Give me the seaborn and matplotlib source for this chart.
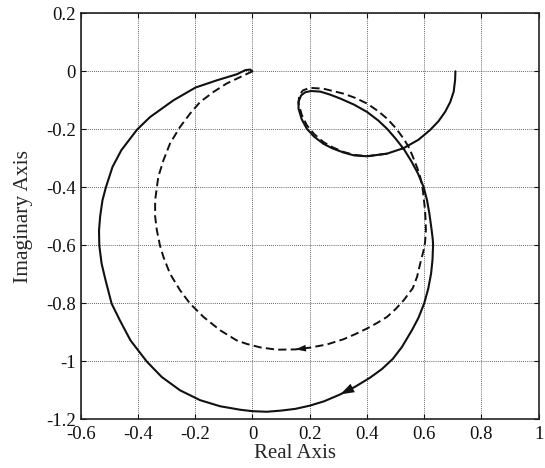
import matplotlib
matplotlib.use("Agg")
import matplotlib.pyplot as plt
import seaborn as sns
import pandas as pd

# Nyquist curves (real, imaginary), ordered along increasing frequency
solid_re = [0.709, 0.708, 0.703, 0.691, 0.673, 0.650, 0.620, 0.580, 0.528, 0.470,
            0.400, 0.355, 0.318, 0.280, 0.248, 0.215, 0.190, 0.172, 0.161, 0.161,
            0.170, 0.185, 0.205, 0.237, 0.270, 0.307, 0.355, 0.400, 0.440, 0.470,
            0.500, 0.530, 0.555, 0.578, 0.598, 0.610, 0.618, 0.625, 0.630, 0.631,
            0.629, 0.624, 0.614, 0.600, 0.580, 0.557, 0.522, 0.490, 0.452, 0.410,
            0.360, 0.307, 0.250, 0.200, 0.150, 0.100, 0.050, 0.000, -0.043, -0.113,
            -0.183, -0.253, -0.317, -0.369, -0.426, -0.463, -0.492, -0.513, -0.527, -0.535,
            -0.536, -0.532, -0.524, -0.512, -0.489, -0.458, -0.403, -0.358, -0.276, -0.199,
            -0.124, -0.054, -0.025, -0.008, 0.000]
solid_im = [0.000, -0.030, -0.070, -0.106, -0.140, -0.172, -0.203, -0.236, -0.265, -0.284,
            -0.293, -0.290, -0.280, -0.266, -0.250, -0.225, -0.198, -0.165, -0.129, -0.105,
            -0.083, -0.072, -0.068, -0.070, -0.080, -0.094, -0.115, -0.140, -0.170, -0.198,
            -0.232, -0.270, -0.310, -0.352, -0.399, -0.445, -0.490, -0.540, -0.580, -0.600,
            -0.650, -0.698, -0.750, -0.800, -0.850, -0.893, -0.951, -0.992, -1.027, -1.057,
            -1.087, -1.114, -1.138, -1.153, -1.164, -1.170, -1.174, -1.172, -1.167, -1.155,
            -1.134, -1.100, -1.054, -1.001, -0.928, -0.859, -0.801, -0.721, -0.663, -0.601,
            -0.548, -0.500, -0.445, -0.400, -0.330, -0.272, -0.201, -0.158, -0.100, -0.056,
            -0.031, -0.010, 0.004, 0.006, 0.000]

dashed_re = [0.470, 0.400, 0.355, 0.318, 0.280, 0.248, 0.215, 0.190, 0.172, 0.161,
             0.163, 0.176, 0.200, 0.248, 0.318, 0.360, 0.400, 0.440, 0.470, 0.500,
             0.528, 0.548, 0.563, 0.576, 0.586, 0.594, 0.598, 0.603, 0.605, 0.606,
             0.603, 0.598, 0.586, 0.575, 0.560, 0.528, 0.500, 0.470, 0.435, 0.400,
             0.360, 0.318, 0.260, 0.200, 0.150, 0.085, 0.027, -0.020, -0.055, -0.113,
             -0.171, -0.218, -0.253, -0.288, -0.311, -0.323, -0.334, -0.340, -0.340, -0.329,
             -0.311, -0.288, -0.253, -0.218, -0.183, -0.136, -0.090, -0.043, 0.000]
dashed_im = [-0.284, -0.293, -0.288, -0.278, -0.262, -0.244, -0.216, -0.186, -0.150, -0.110,
             -0.085, -0.066, -0.057, -0.060, -0.077, -0.092, -0.111, -0.138, -0.163, -0.195,
             -0.232, -0.265, -0.301, -0.334, -0.364, -0.400, -0.433, -0.480, -0.520, -0.548,
             -0.590, -0.617, -0.663, -0.709, -0.748, -0.790, -0.820, -0.847, -0.868, -0.887,
             -0.906, -0.924, -0.942, -0.953, -0.959, -0.960, -0.952, -0.940, -0.928, -0.893,
             -0.847, -0.801, -0.755, -0.698, -0.640, -0.601, -0.548, -0.500, -0.445, -0.364,
             -0.307, -0.249, -0.192, -0.146, -0.106, -0.071, -0.042, -0.020, 0.000]

x_ticks = [-0.6, -0.4, -0.2, 0, 0.2, 0.4, 0.6, 0.8, 1]
x_tick_labels = ["-0.6", "-0.4", "-0.2", "0", "0.2", "0.4", "0.6", "0.8", "1"]
y_ticks = [-1.2, -1.0, -0.8, -0.6, -0.4, -0.2, 0, 0.2]
y_tick_labels = ["-1.2", "-1", "-0.8", "-0.6", "-0.4", "-0.2", "0", "0.2"]

# arrow positions (index of the arrow tip in each curve)
solid_arrow_idx = 51
dashed_arrow_idx = 44

sns.set_style("ticks")
plt.rcParams["font.family"] = ["Liberation Serif", "DejaVu Serif"]

solid_df = pd.DataFrame({"re": solid_re, "im": solid_im})
dashed_df = pd.DataFrame({"re": dashed_re, "im": dashed_im})

fig = plt.figure(figsize=(5.45, 4.68), dpi=100)
ax = fig.add_axes([80.7 / 545, 1 - 419.3 / 468, 458 / 545, 406 / 468])

sns.lineplot(data=solid_df, x="re", y="im", sort=False, estimator=None,
             color="#111111", lw=1.5, ax=ax)
sns.lineplot(data=dashed_df, x="re", y="im", sort=False, estimator=None,
             color="#111111", lw=1.4, ax=ax, linestyle=(0, (4.2, 2.2)))

# direction arrows
ax.annotate("", xy=(solid_re[solid_arrow_idx], solid_im[solid_arrow_idx]),
            xytext=(solid_re[solid_arrow_idx - 1], solid_im[solid_arrow_idx - 1]),
            arrowprops=dict(arrowstyle="-|>,head_length=0.5,head_width=0.17",
                            mutation_scale=20, color="#111111", lw=0,
                            shrinkA=0, shrinkB=0))
ax.annotate("", xy=(dashed_re[dashed_arrow_idx], dashed_im[dashed_arrow_idx]),
            xytext=(dashed_re[dashed_arrow_idx - 1], dashed_im[dashed_arrow_idx - 1]),
            arrowprops=dict(arrowstyle="-|>,head_length=0.38,head_width=0.12",
                            mutation_scale=20, color="#111111", lw=0,
                            shrinkA=0, shrinkB=0))

ax.set_xlim(-0.6, 1.0)
ax.set_ylim(-1.2, 0.2)
ax.set_xticks(x_ticks)
ax.set_xticklabels(x_tick_labels)
ax.set_yticks(y_ticks)
ax.set_yticklabels(y_tick_labels)
ax.grid(True, color="#333333", linestyle=(0, (1, 1.5)), lw=0.6)
ax.tick_params(direction="in", length=3.5, width=0.8, top=True, right=True,
               labelsize=13.5, colors="#111111")
ax.tick_params(axis="x", pad=4.5)
ax.tick_params(axis="y", pad=3.5)
for side in ax.spines.values():
    side.set_linewidth(1.2)
    side.set_color("#222222")

ax.set_xlabel("Real Axis", fontsize=15)
ax.set_ylabel("Imaginary Axis", fontsize=15.5)
ax.xaxis.set_label_coords(0.468, -0.062)
ax.yaxis.set_label_coords(-0.104, 0.5)

fig.savefig("out.png", dpi=100)
